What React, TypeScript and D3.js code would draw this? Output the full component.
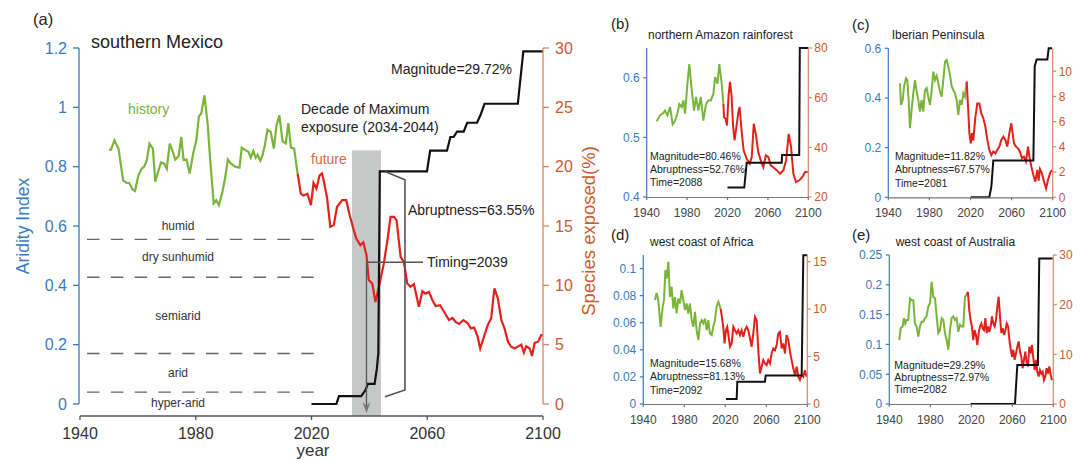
import * as d3 from "d3";

type Pt = [number, number];

// ---------- panel (a): southern Mexico ----------
const historyA: Pt[] = [
  [1950, 0.857], [1950.7, 0.857], [1951.9, 0.889], [1953.3, 0.861], [1954.9, 0.754], [1956.1, 0.745],
  [1957, 0.745], [1958.2, 0.723], [1959, 0.718], [1960.2, 0.771], [1961.3, 0.793], [1962.2, 0.8],
  [1963.1, 0.822], [1964, 0.878], [1965.2, 0.861], [1966, 0.749], [1966.8, 0.777], [1968, 0.814],
  [1969.1, 0.81], [1970, 0.793], [1971, 0.878], [1972.1, 0.85], [1972.9, 0.824], [1974.1, 0.836],
  [1975, 0.9], [1975.8, 0.822], [1976.8, 0.824], [1977.9, 0.777], [1979.1, 0.844], [1980.2, 0.889],
  [1981.1, 0.97], [1981.9, 0.979], [1983, 1.04], [1984.1, 0.945], [1985, 0.822], [1986.2, 0.676],
  [1987.1, 0.687], [1988, 0.67], [1989.1, 0.709], [1990.2, 0.765], [1991.1, 0.824], [1992.2, 0.81],
  [1993.6, 0.8], [1995.1, 0.797], [1995.9, 0.864], [1997.3, 0.855], [1998.2, 0.85], [1999, 0.83],
  [1999.9, 0.853], [2000.7, 0.83], [2001.4, 0.84], [2002.3, 0.82], [2003.1, 0.84], [2003.9, 0.873],
  [2004.8, 0.925], [2005.9, 0.917], [2007, 0.861], [2007.9, 0.939], [2008.9, 0.973], [2010, 0.886],
  [2011.1, 0.878], [2012, 0.947], [2012.9, 0.864], [2014, 0.861], [2015.2, 0.777],
];
const futureA: Pt[] = [
  [2015.2, 0.777], [2016.3, 0.709], [2017.2, 0.703], [2018.6, 0.709], [2019.8, 0.67], [2020.7, 0.745],
  [2021.7, 0.726], [2022.8, 0.771], [2023.6, 0.777], [2024.2, 0.754], [2025.4, 0.693], [2026.5, 0.597],
  [2027.7, 0.603], [2028.8, 0.664], [2030.6, 0.687], [2032, 0.687], [2033.2, 0.636], [2034.6, 0.586],
  [2035.5, 0.558], [2036.9, 0.535], [2037.9, 0.545], [2039, 0.502], [2039.8, 0.418], [2041, 0.406],
  [2042.1, 0.344], [2043.3, 0.395], [2045, 0.474], [2046.4, 0.563], [2047.3, 0.631], [2048.5, 0.631],
  [2049.4, 0.62], [2050.8, 0.496], [2051.9, 0.479], [2053.1, 0.406], [2054.2, 0.395], [2055.4, 0.404],
  [2057.1, 0.328], [2058.3, 0.38], [2059.4, 0.372], [2060.6, 0.378], [2061.8, 0.35], [2062.9, 0.33],
  [2064.4, 0.333], [2065.8, 0.311], [2067.5, 0.283], [2068.7, 0.29], [2069.8, 0.277], [2071, 0.27],
  [2072.5, 0.283], [2073.9, 0.273], [2075.1, 0.255], [2076.2, 0.258], [2077.4, 0.227], [2078.3, 0.187],
  [2079.7, 0.23], [2080.9, 0.266], [2082.1, 0.289], [2083.2, 0.39], [2084.4, 0.356], [2085.6, 0.283],
  [2086.7, 0.255], [2087.9, 0.21], [2089, 0.193], [2090.2, 0.187], [2091.6, 0.195], [2092.5, 0.2],
  [2093.4, 0.173], [2094.2, 0.195], [2095.4, 0.187], [2096.2, 0.162], [2097.1, 0.206], [2098.3, 0.21],
  [2099.4, 0.232], [2100, 0.232],
];
const exposureA: Pt[] = [
  [2020, 0], [2028.6, 0], [2029.5, 0.67], [2037.2, 0.67], [2038.7, 1.2], [2039.5, 1.7], [2041.8, 1.7],
  [2042.6, 3.0], [2043.1, 4.3], [2043.6, 19.6], [2059.9, 19.6], [2061, 21.35], [2066.8, 21.35],
  [2068, 22.5], [2069.1, 22.5], [2070.3, 22.95], [2072.6, 22.95], [2073.8, 23.7], [2077.2, 23.7],
  [2078.4, 24.35], [2079.8, 25.3], [2091.3, 25.3], [2093.2, 29.72], [2100, 29.72],
];
const zoneBounds = [0.555, 0.427, 0.17, 0.04];
const zoneNames = ["humid", "dry sunhumid", "semiarid", "arid", "hyper-arid"];
const maxDecade: Pt = [2034, 2044];
const timingYear = 2039;
const yearTicks = [1940, 1980, 2020, 2060, 2100];
const aiTicksA = [0, 0.2, 0.4, 0.6, 0.8, 1, 1.2];
const expTicksA = [0, 5, 10, 15, 20, 25, 30];

// ---------- panel (b): northern Amazon rainforest ----------
const historyB: Pt[] = [
  [1949.9, 0.527], [1953.2, 0.537], [1955.8, 0.54], [1958.2, 0.545], [1960.5, 0.537], [1963.1, 0.551],
  [1965.7, 0.522], [1968, 0.528], [1970.4, 0.54], [1972.3, 0.556], [1974.7, 0.551], [1976.3, 0.562],
  [1978, 0.54], [1980.3, 0.59], [1982.2, 0.623], [1984.6, 0.579], [1986.9, 0.545], [1988.8, 0.568],
  [1991.2, 0.545], [1993.5, 0.568], [1996.1, 0.528], [1998.7, 0.556], [2001, 0.562], [2003.4, 0.562],
  [2006, 0.573], [2007.7, 0.601], [2010, 0.59], [2011.9, 0.623], [2014.3, 0.59], [2015.9, 0.556],
];
const futureB: Pt[] = [
  [2015.9, 0.556], [2016.6, 0.534], [2018.2, 0.531], [2019.5, 0.52], [2021, 0.57], [2022.5, 0.593],
  [2024, 0.57], [2025.5, 0.52], [2027, 0.495], [2029, 0.52], [2031, 0.545], [2032, 0.551],
  [2034, 0.51], [2036, 0.478], [2039, 0.464], [2042, 0.456], [2044, 0.467], [2046, 0.523],
  [2048, 0.506], [2050.5, 0.475], [2053, 0.461], [2055.5, 0.45], [2058, 0.47], [2060.5, 0.467],
  [2062.8, 0.453], [2065.4, 0.45], [2068.7, 0.445], [2072, 0.439], [2075.3, 0.445], [2078, 0.461],
  [2080.6, 0.506], [2082.9, 0.484], [2085.2, 0.439], [2087.8, 0.425], [2091.1, 0.428], [2094.4, 0.434],
  [2096.8, 0.442], [2099.4, 0.442],
];
const exposureB: Pt[] = [
  [2020, 23.8], [2036.6, 23.8], [2039, 33.8], [2073.7, 33.8], [2074, 36.9], [2091, 36.9],
  [2091.6, 80], [2100, 80],
];

// ---------- panel (c): Iberian Peninsula ----------
const historyC: Pt[] = [
  [1951.4, 0.459], [1952.3, 0.372], [1954, 0.392], [1955.3, 0.446], [1957.2, 0.479], [1958.5, 0.472],
  [1959.8, 0.392], [1961.1, 0.278], [1962.7, 0.352], [1964.3, 0.419], [1966, 0.472], [1967.6, 0.426],
  [1969.2, 0.392], [1970.8, 0.345], [1972.4, 0.392], [1974, 0.345], [1975.7, 0.432], [1977.3, 0.44],
  [1978.9, 0.405], [1980.6, 0.372], [1982.2, 0.432], [1983.8, 0.506], [1985.4, 0.472], [1987.1, 0.49],
  [1988.7, 0.459], [1990.3, 0.426], [1991.9, 0.405], [1993.5, 0.472], [1995.2, 0.546], [1996.8, 0.553],
  [1998.4, 0.526], [2000, 0.493], [2001.7, 0.446], [2003.3, 0.432], [2004.9, 0.419], [2006.5, 0.392],
  [2008.1, 0.332], [2009.8, 0.392], [2011.4, 0.372], [2013, 0.419], [2014.6, 0.405], [2016.3, 0.466],
];
const futureC: Pt[] = [
  [2016.3, 0.466], [2017.6, 0.365], [2018.9, 0.258], [2020.2, 0.217], [2021.5, 0.258], [2022.7, 0.228],
  [2024.7, 0.322], [2026.6, 0.378], [2028.6, 0.378], [2030.5, 0.338], [2032.5, 0.318], [2034.4, 0.285],
  [2036.4, 0.231], [2038.3, 0.191], [2040.3, 0.17], [2042.2, 0.184], [2044.2, 0.177], [2046.1, 0.191],
  [2048.1, 0.204], [2050, 0.231], [2052, 0.244], [2054, 0.231], [2055.8, 0.204], [2057.8, 0.258],
  [2059.7, 0.298], [2061, 0.258], [2062.3, 0.217], [2064.3, 0.204], [2066.2, 0.197], [2068.2, 0.184],
  [2070.1, 0.157], [2072, 0.164], [2074, 0.144], [2076, 0.204], [2077.3, 0.164], [2079.2, 0.124],
  [2081.2, 0.09], [2083.1, 0.063], [2085, 0.11], [2086.3, 0.067], [2087.6, 0.114], [2089.6, 0.097],
  [2091.5, 0.063], [2093.5, 0.036], [2095.4, 0.07], [2097.4, 0.097], [2099.3, 0.11],
];
const exposureC: Pt[] = [
  [2020.2, 0], [2038.3, 0], [2040.3, 0.85], [2042.2, 2.92], [2081.2, 2.92], [2082.5, 10.4],
  [2084.4, 10.93], [2094.8, 10.93], [2096.1, 11.82], [2099.3, 11.82],
];

// ---------- panel (d): west coast of Africa ----------
const historyD: Pt[] = [
  [1951.4, 0.0767], [1953, 0.082], [1954.6, 0.0767], [1956.9, 0.057], [1958.9, 0.0717], [1960.2, 0.0767],
  [1961.5, 0.0988], [1962.8, 0.0926], [1964.4, 0.105], [1966, 0.079], [1967.6, 0.0865], [1969.3, 0.0705],
  [1970.9, 0.079], [1972.5, 0.0668], [1974.1, 0.0779], [1975.8, 0.0742], [1977.4, 0.084], [1979, 0.0767],
  [1980.7, 0.0693], [1982.3, 0.0742], [1983.9, 0.0668], [1985.5, 0.0742], [1987.2, 0.0619], [1988.8, 0.057],
  [1990.4, 0.068], [1992, 0.0545], [1993.7, 0.0472], [1995.3, 0.0595], [1996.9, 0.0619], [1998.5, 0.0595],
  [2000.2, 0.0631], [2001.8, 0.0545], [2003.4, 0.0619], [2005, 0.0521], [2006.7, 0.0509], [2008.3, 0.057],
  [2009.9, 0.0619], [2011.5, 0.0717], [2013.2, 0.0754], [2015.4, 0.0705],
];
const futureD: Pt[] = [
  [2015.4, 0.0705], [2016.7, 0.0644], [2018, 0.057], [2019.3, 0.0447], [2020.6, 0.0545], [2021.9, 0.057],
  [2023.3, 0.0496], [2024.6, 0.0423], [2026.2, 0.0447], [2027.8, 0.057], [2029.4, 0.0545], [2031.1, 0.0521],
  [2032.7, 0.0545], [2034.3, 0.0509], [2035.9, 0.0545], [2037.6, 0.0496], [2039.2, 0.0545], [2040.8, 0.057],
  [2042.4, 0.0545], [2044.1, 0.0484], [2045.7, 0.0423], [2047.3, 0.0521], [2049, 0.0644], [2050.6, 0.0619],
  [2052.2, 0.0398], [2053.8, 0.0226], [2055.4, 0.0275], [2057.1, 0.0324], [2058.7, 0.03], [2060.3, 0.0287],
  [2061.9, 0.0324], [2063.6, 0.03], [2065.2, 0.0373], [2066.8, 0.041], [2068.5, 0.0398], [2070.1, 0.0435],
  [2071.7, 0.0521], [2073.3, 0.0533], [2075, 0.041], [2076.6, 0.0447], [2078.2, 0.0373], [2079.8, 0.0509],
  [2081.5, 0.0472], [2083.1, 0.0386], [2084.7, 0.0324], [2086.3, 0.0263], [2088, 0.0214], [2089.6, 0.0275],
  [2091.2, 0.0201], [2092.8, 0.0177], [2094.5, 0.0214], [2096.1, 0.0201], [2097.7, 0.025], [2099.3, 0.0201],
];
const exposureD: Pt[] = [
  [2020.6, 0.53], [2031.1, 0.53], [2031.7, 2.35], [2058.7, 2.35], [2059.4, 2.99], [2094.5, 2.99],
  [2096.1, 15.68], [2100, 15.68],
];

// ---------- panel (e): west coast of Australia ----------
const historyE: Pt[] = [
  [1949.8, 0.107], [1951.1, 0.127], [1953, 0.13], [1954.3, 0.144], [1955.6, 0.135], [1956.9, 0.141],
  [1958.5, 0.141], [1960.2, 0.177], [1961.8, 0.174], [1963.4, 0.174], [1965, 0.135], [1966.7, 0.13],
  [1968.3, 0.113], [1969.9, 0.13], [1971.5, 0.138], [1973.2, 0.138], [1974.8, 0.144], [1976.4, 0.147],
  [1978, 0.163], [1979.7, 0.169], [1981.3, 0.205], [1982.9, 0.18], [1984.6, 0.177], [1986.2, 0.147],
  [1987.8, 0.119], [1989.4, 0.124], [1991.1, 0.144], [1992.7, 0.141], [1994.3, 0.119], [1996, 0.107],
  [1997.6, 0.091], [1999.2, 0.124], [2000.8, 0.144], [2002.4, 0.147], [2004.1, 0.141], [2005.7, 0.144],
  [2007.3, 0.121], [2009, 0.133], [2010.6, 0.13], [2012.2, 0.13], [2013.8, 0.18], [2015.5, 0.183],
];
const futureE: Pt[] = [
  [2015.5, 0.183], [2016.7, 0.188], [2018, 0.158], [2019.3, 0.141], [2020.6, 0.13], [2021.9, 0.107],
  [2023.2, 0.124], [2024.5, 0.116], [2025.9, 0.099], [2027.2, 0.119], [2028.5, 0.13], [2029.8, 0.135],
  [2031.1, 0.127], [2032.4, 0.124], [2033.7, 0.144], [2035, 0.119], [2036.3, 0.13], [2037.6, 0.121],
  [2038.9, 0.13], [2040.2, 0.147], [2041.5, 0.135], [2042.8, 0.13], [2044.1, 0.141], [2045.4, 0.163],
  [2046.7, 0.18], [2048, 0.147], [2049.3, 0.119], [2050.6, 0.127], [2052, 0.116], [2053.3, 0.124],
  [2054.6, 0.135], [2055.9, 0.13], [2057.2, 0.107], [2058.5, 0.091], [2059.8, 0.079], [2061, 0.091],
  [2062.3, 0.074], [2063.6, 0.085], [2064.9, 0.096], [2066.2, 0.105], [2067.5, 0.088], [2068.8, 0.079],
  [2070.1, 0.06], [2071.4, 0.074], [2072.7, 0.088], [2074, 0.068], [2075.3, 0.063], [2076.6, 0.096],
  [2077.9, 0.085], [2079.2, 0.099], [2080.5, 0.077], [2081.8, 0.057], [2083.1, 0.074], [2084.4, 0.054],
  [2085.7, 0.046], [2087, 0.057], [2088.3, 0.051], [2089.6, 0.054], [2090.9, 0.04], [2092.2, 0.046],
  [2093.5, 0.06], [2094.8, 0.051], [2096.1, 0.063], [2097.4, 0.049], [2098.7, 0.04],
];
const exposureE: Pt[] = [
  [2019.3, 0], [2062.6, 0], [2064.9, 7.85], [2085, 7.85], [2086.3, 29.29], [2099.3, 29.29],
];

const FONT = "'Liberation Sans', Arial, Helvetica, sans-serif";
const GREEN = "#79b43b";
const RED = "#e3211c";
const BLUE = "#3a7bbf";
const ORANGE = "#cc5a30";
const ORANGE_AXIS = "#d9866a";
const GRAY = "#555";

const fmt = (v: number) => String(+v.toFixed(3));

const MainPanel = () => {
  const x = d3.scaleLinear().domain([1940, 2100]).range([80, 543]);
  const yL = d3.scaleLinear().domain([0, 1.2]).range([404, 48]);
  const yR = d3.scaleLinear().domain([0, 30]).range([404, 48]);
  const lineL = d3.line<Pt>().x((d) => x(d[0])).y((d) => yL(d[1]));
  const lineR = d3.line<Pt>().x((d) => x(d[0])).y((d) => yR(d[1]));
  const axisY = 416;
  const zoneLabelY = [230, 261, 320, 377, 407];

  const tx = x(timingYear);
  const tyy = yL(0.478);
  const bracket: Pt[] = [
    [2045.4, 19.6], [2052.3, 18.9], [2052.3, 1.18], [2045.4, 0.62],
  ];

  return (
    <g fontFamily={FONT}>
      <text x={33} y={25} fontSize={16.5} fill="#222">(a)</text>
      <text x={91} y={48} fontSize={18} fill="#222">southern Mexico</text>

      {/* decade of max exposure */}
      <rect x={x(maxDecade[0])} y={yL(0.855)} width={x(maxDecade[1]) - x(maxDecade[0])}
        height={axisY - yL(0.855)} fill="#c6c7c7" />

      {/* aridity zones */}
      {zoneBounds.map((b) => (
        <line key={b} x1={87} x2={322} y1={yL(b)} y2={yL(b)} stroke="#666" strokeWidth={1.4}
          strokeDasharray="12.5 11.3" />
      ))}
      {zoneNames.map((n, i) => (
        <text key={n} x={178} y={zoneLabelY[i]} fontSize={12} fill="#333" textAnchor="middle">{n}</text>
      ))}

      <path d={lineL(historyA) ?? ""} fill="none" stroke={GREEN} strokeWidth={2.2} />
      <path d={lineL(futureA) ?? ""} fill="none" stroke={RED} strokeWidth={2.2} />
      <path d={lineR(exposureA) ?? ""} fill="none" stroke="#111" strokeWidth={2.2} />

      {/* timing marker */}
      <line x1={tx} x2={tx} y1={tyy} y2={410} stroke={GRAY} strokeWidth={1.3} />
      <line x1={tx} x2={423} y1={tyy} y2={tyy} stroke={GRAY} strokeWidth={1.6} />
      <path d={`M${tx - 4},${402} L${tx},${413} L${tx + 4},${402} L${tx},${406} Z`} fill="#777" />
      <text x={427} y={267} fontSize={14} fill="#222">Timing=2039</text>

      {/* abruptness bracket */}
      <path d={lineR(bracket) ?? ""} fill="none" stroke="#5e5050" strokeWidth={1.6} />
      <text x={408} y={215} fontSize={14} fill="#222">Abruptness=63.55%</text>

      <text x={391} y={74} fontSize={14} fill="#222">Magnitude=29.72%</text>
      <text x={301} y={114} fontSize={14} fill="#222">Decade of Maximum</text>
      <text x={301} y={132} fontSize={14} fill="#222">exposure (2034-2044)</text>
      <text x={128} y={114} fontSize={14} fill={GREEN}>history</text>
      <text x={311} y={164} fontSize={14} fill="#dc6a4a">future</text>

      {/* left axis */}
      <line x1={79} x2={79} y1={yL(0)} y2={yL(1.2)} stroke={BLUE} strokeWidth={1.3} />
      {aiTicksA.map((t) => (
        <g key={t}>
          <line x1={73} x2={79} y1={yL(t)} y2={yL(t)} stroke={BLUE} strokeWidth={1.3} />
          <text x={67} y={yL(t) + 5.5} fontSize={16} fill={BLUE} textAnchor="end">{fmt(t)}</text>
        </g>
      ))}
      <text transform={`translate(29,${226}) rotate(-90)`} fontSize={17.5} fill={BLUE}
        textAnchor="middle">Aridity Index</text>

      {/* right axis */}
      <line x1={543} x2={543} y1={yR(0)} y2={yR(30)} stroke={ORANGE_AXIS} strokeWidth={1.3} />
      {expTicksA.map((t) => (
        <g key={t}>
          <line x1={543} x2={549} y1={yR(t)} y2={yR(t)} stroke={ORANGE_AXIS} strokeWidth={1.3} />
          <text x={555} y={yR(t) + 5.5} fontSize={16} fill={ORANGE}>{t}</text>
        </g>
      ))}
      <text transform={`translate(595,${231}) rotate(-90)`} fontSize={18.5} fill={ORANGE}
        textAnchor="middle">Species exposed(%)</text>

      {/* bottom axis */}
      <line x1={80} x2={543} y1={axisY} y2={axisY} stroke={GRAY} strokeWidth={1.3} />
      {yearTicks.map((t) => (
        <g key={t}>
          <line x1={x(t)} x2={x(t)} y1={axisY} y2={axisY + 4} stroke={GRAY} strokeWidth={1.3} />
          <text x={x(t)} y={439} fontSize={16} fill="#333" textAnchor="middle">{t}</text>
        </g>
      ))}
      <text x={313} y={456} fontSize={17} fill="#333" textAnchor="middle">year</text>
    </g>
  );
};

type Spec = {
  tag: string;
  title: string;
  box: [number, number, number, number];
  left: [number, number];
  right: [number, number];
  leftTicks: number[];
  rightTicks: number[];
  hist: Pt[];
  fut: Pt[];
  exp: Pt[];
  notes: string[];
  tagPos: [number, number];
  titleX: number;
  noteX: number;
  noteY: number;
  noteStep: number;
};

const SmallPanel = ({ s }: { s: Spec }) => {
  const [l, t, r, b] = s.box;
  const x = d3.scaleLinear().domain([1940, 2100]).range([l, r]);
  const yL = d3.scaleLinear().domain(s.left).range([b, t]);
  const yR = d3.scaleLinear().domain(s.right).range([b, t]);
  const lineL = d3.line<Pt>().x((d) => x(d[0])).y((d) => yL(d[1]));
  const lineR = d3.line<Pt>().x((d) => x(d[0])).y((d) => yR(d[1]));
  return (
    <g fontFamily={FONT}>
      <text x={s.tagPos[0]} y={s.tagPos[1]} fontSize={15} fill="#222">{s.tag}</text>
      <text x={s.titleX} y={t - 9.5} fontSize={12} fill="#222">{s.title}</text>

      <path d={lineL(s.hist) ?? ""} fill="none" stroke={GREEN} strokeWidth={2} />
      <path d={lineL(s.fut) ?? ""} fill="none" stroke={RED} strokeWidth={2} />
      <path d={lineR(s.exp) ?? ""} fill="none" stroke="#111" strokeWidth={2} />

      {s.notes.map((n, i) => (
        <text key={n} x={s.noteX} y={s.noteY + i * s.noteStep} fontSize={10.5} fill="#222">{n}</text>
      ))}

      <line x1={l} x2={l} y1={b} y2={t} stroke={BLUE} strokeWidth={1.2} />
      {s.leftTicks.map((v) => (
        <g key={v}>
          <line x1={l - 3.5} x2={l} y1={yL(v)} y2={yL(v)} stroke={BLUE} strokeWidth={1.2} />
          <text x={l - 7} y={yL(v) + 4.3} fontSize={12} fill={BLUE} textAnchor="end">{fmt(v)}</text>
        </g>
      ))}
      <line x1={r} x2={r} y1={b} y2={t} stroke={ORANGE_AXIS} strokeWidth={1.2} />
      {s.rightTicks.map((v) => (
        <g key={v}>
          <line x1={r} x2={r + 3.5} y1={yR(v)} y2={yR(v)} stroke={ORANGE_AXIS} strokeWidth={1.2} />
          <text x={r + 6} y={yR(v) + 4.3} fontSize={12} fill={ORANGE}>{v}</text>
        </g>
      ))}
      <line x1={l} x2={r} y1={b + 0.5} y2={b + 0.5} stroke="#777" strokeWidth={1.2} />
      {yearTicks.map((v) => (
        <g key={v}>
          <line x1={x(v)} x2={x(v)} y1={b} y2={b + 3} stroke="#777" strokeWidth={1.2} />
          <text x={x(v)} y={b + 20} fontSize={12} fill="#444" textAnchor="middle">{v}</text>
        </g>
      ))}
    </g>
  );
};

const specs: Spec[] = [
  {
    tag: "(b)", title: "northern Amazon rainforest", box: [646.7, 48, 808.3, 197],
    left: [0.4, 0.65], right: [20, 80], leftTicks: [0.4, 0.5, 0.6], rightTicks: [20, 40, 60, 80],
    hist: historyB, fut: futureB, exp: exposureB,
    notes: ["Magnitude=80.46%", "Abruptness=52.76%", "Time=2088"],
    tagPos: [611, 29], titleX: 648, noteX: 650, noteY: 160, noteStep: 13.2,
  },
  {
    tag: "(c)", title: "Iberian Peninsula", box: [888.3, 48.3, 1052.7, 197.3],
    left: [0, 0.6], right: [0, 11.82], leftTicks: [0, 0.2, 0.4, 0.6], rightTicks: [0, 2, 4, 6, 8, 10],
    hist: historyC, fut: futureC, exp: exposureC,
    notes: ["Magnitude=11.82%", "Abruptness=67.57%", "Time=2081"],
    tagPos: [852, 29.5], titleX: 891.7, noteX: 895, noteY: 160, noteStep: 13.3,
  },
  {
    tag: "(d)", title: "west coast of Africa", box: [643.3, 255, 807.3, 404],
    left: [0, 0.11], right: [0, 15.7], leftTicks: [0, 0.02, 0.04, 0.06, 0.08, 0.1], rightTicks: [0, 5, 10, 15],
    hist: historyD, fut: futureD, exp: exposureD,
    notes: ["Magnitude=15.68%", "Abruptness=81.13%", "Time=2092"],
    tagPos: [611, 239.5], titleX: 650, noteX: 650, noteY: 366.5, noteStep: 13.7,
  },
  {
    tag: "(e)", title: "west coast of Australia", box: [889.3, 255, 1053.3, 404],
    left: [0, 0.25], right: [0, 30], leftTicks: [0, 0.05, 0.1, 0.15, 0.2, 0.25], rightTicks: [0, 10, 20, 30],
    hist: historyE, fut: futureE, exp: exposureE,
    notes: ["Magnitude=29.29%", "Abruptness=72.97%", "Time=2082"],
    tagPos: [852, 239.5], titleX: 895.7, noteX: 894.3, noteY: 368.8, noteStep: 12,
  },
];

export default function App() {
  return (
    <div>
      <style>{"body{margin:0;background:#fff}"}</style>
      <svg width={1088} height={461} style={{ display: "block", background: "white" }}>
        <MainPanel />
        {specs.map((s) => (
          <SmallPanel key={s.tag} s={s} />
        ))}
      </svg>
    </div>
  );
}
